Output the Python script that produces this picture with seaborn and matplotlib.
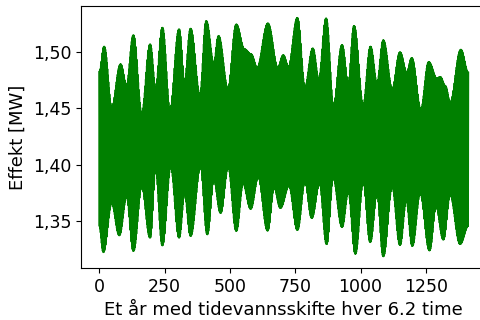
import numpy as np
import pandas as pd
import matplotlib
matplotlib.use("Agg")
import matplotlib.pyplot as plt
import matplotlib.ticker as mticker
import seaborn as sns

# Number of tide changes in one year (one every 6.2 hours)
n_tides = 1413

# Upper envelope of the power output (flood side): tide index and power [MW]
upper_idx = [0, 18, 47, 81, 104, 130, 162, 194, 215, 241, 270, 305, 326, 349, 385,
             409, 438, 456, 492, 524, 555, 581, 604, 645, 683, 704, 724, 758, 787,
             817, 840, 868, 896, 929, 953, 975, 1010, 1038, 1063, 1087, 1121, 1151,
             1177, 1196, 1231, 1261, 1292, 1305, 1324, 1343, 1384, 1412]
upper_mw = [1.4823, 1.5047, 1.4506, 1.4891, 1.4699, 1.5149, 1.4447, 1.5068, 1.4669,
            1.5216, 1.4477, 1.5201, 1.4728, 1.5207, 1.4610, 1.5275, 1.4891, 1.5142,
            1.4669, 1.5244, 1.5024, 1.4979, 1.4858, 1.5253, 1.4860, 1.4971, 1.4867,
            1.5302, 1.4681, 1.5031, 1.4752, 1.5298, 1.4518, 1.5061, 1.4714, 1.5231,
            1.4521, 1.5047, 1.4714, 1.5104, 1.4669, 1.4997, 1.4816, 1.4946, 1.4485,
            1.4911, 1.4763, 1.4778, 1.4699, 1.4550, 1.5020, 1.4816]

# Lower envelope of the power output (ebb side): tide index and power [MW]
lower_idx = [0, 15, 47, 76, 104, 130, 162, 194, 215, 241, 273, 305, 326, 349, 387,
             413, 438, 464, 493, 524, 550, 579, 608, 644, 669, 693, 726, 758, 787,
             813, 843, 870, 895, 929, 953, 980, 1010, 1037, 1063, 1087, 1121, 1151,
             1175, 1198, 1228, 1264, 1289, 1317, 1343, 1381, 1412]
lower_mw = [1.3456, 1.3224, 1.3662, 1.3373, 1.3722, 1.3234, 1.3810, 1.3352, 1.3970,
            1.3284, 1.3988, 1.3352, 1.3751, 1.3367, 1.3988, 1.3382, 1.3870, 1.3571,
            1.3985, 1.3412, 1.3837, 1.3608, 1.3891, 1.3415, 1.3800, 1.3616, 1.3815,
            1.3420, 1.3852, 1.3527, 1.3837, 1.3294, 1.3891, 1.3447, 1.3766, 1.3209,
            1.3855, 1.3313, 1.3751, 1.3187, 1.3810, 1.3287, 1.3692, 1.3278, 1.3751,
            1.3239, 1.3633, 1.3335, 1.3737, 1.3296, 1.3456]


def smooth_envelope(idx, vals, n):
    """Cosine-blended envelope through the given turning points."""
    idx = np.asarray(idx, float)
    vals = np.asarray(vals, float)
    t = np.arange(n, dtype=float)
    seg = np.clip(np.searchsorted(idx, t, side="right") - 1, 0, len(idx) - 2)
    x0, x1 = idx[seg], idx[seg + 1]
    v0, v1 = vals[seg], vals[seg + 1]
    s = np.clip((t - x0) / (x1 - x0), 0, 1)
    w = (1 - np.cos(np.pi * s)) / 2
    return v0 + (v1 - v0) * w


tide = np.arange(n_tides)
hi = smooth_envelope(upper_idx, upper_mw, n_tides)
lo = smooth_envelope(lower_idx, lower_mw, n_tides)
power = np.where(tide % 2 == 0, hi, lo)

df = pd.DataFrame({"tide": tide, "power": power})

fig = plt.figure(figsize=(4.8, 3.2), dpi=100)
ax = fig.add_axes([0.16875, 0.1625, 0.845, 0.81875])

sns.lineplot(data=df, x="tide", y="power", ax=ax, color="green",
             linewidth=1.5, estimator=None, sort=False)

ax.set_xlim(-70.6, 1482.6)
ax.set_ylim(1.3083, 1.5408)
ax.set_xticks([0, 250, 500, 750, 1000, 1250])
ax.set_yticks([1.35, 1.40, 1.45, 1.50])
ax.yaxis.set_major_formatter(
    mticker.FuncFormatter(lambda v, p: f"{v:.2f}".replace(".", ",")))
ax.tick_params(labelsize=12.5)
ax.set_xlabel("Et år med tidevannsskifte hver 6.2 time", fontsize=13)
ax.set_ylabel("Effekt [MW]", fontsize=13)

fig.savefig("out.png", dpi=100)
